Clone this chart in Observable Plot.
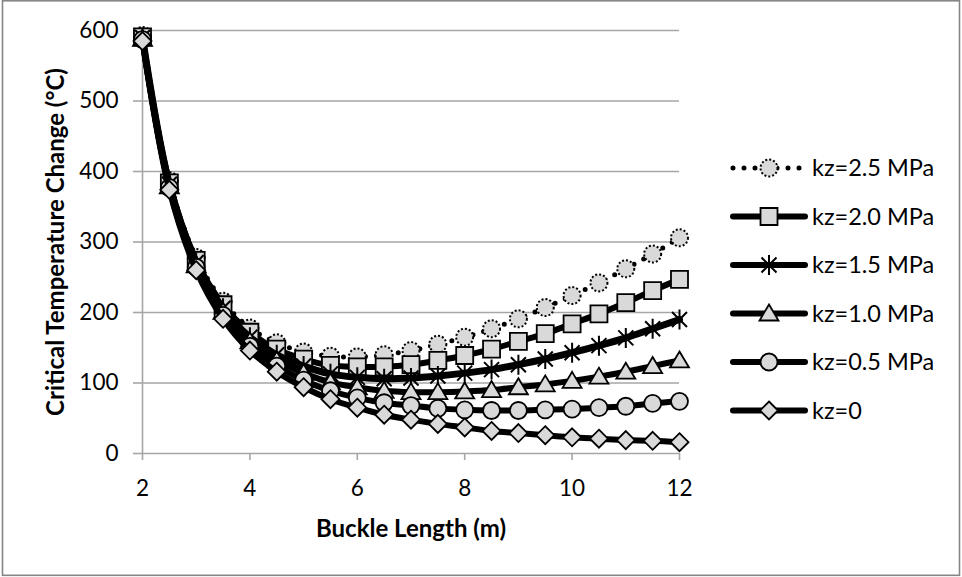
<!DOCTYPE html>
<html>
<head>
<meta charset="utf-8">
<script src="https://cdn.jsdelivr.net/npm/d3@7"></script>
<script src="https://cdn.jsdelivr.net/npm/@observablehq/plot@0.6"></script>
<style>
  html, body { margin: 0; padding: 0; background: white; }
  #wrap { position: relative; width: 962px; height: 577px; }
  #wrap svg { position: absolute; left: 0; top: 0; }
</style>
</head>
<body>
<div id="wrap"></div>
<script>
// ---- Data ----
const lengths = [2, 2.5, 3, 3.5, 4, 4.5, 5, 5.5, 6, 6.5, 7, 7.5, 8, 8.5, 9, 9.5, 10, 10.5, 11, 11.5, 12];
const kz25 = [593, 387, 278, 216, 178, 157, 144, 138, 137, 140, 146, 155, 165, 177, 191, 207, 224, 242, 262, 283, 306];
const kz20 = [591, 384, 274, 211, 172, 148, 134, 125, 123, 123, 126, 132, 139, 148, 159, 170, 184, 198, 214, 231, 247];
const kz15 = [590, 382, 271, 206, 165, 140, 124, 113, 108, 106, 107, 110, 114, 119, 126, 134, 143, 153, 164, 177, 190];
const kz10 = [588, 379, 267, 201, 159, 132, 114, 101, 94, 89, 87, 87, 88, 90, 94, 98, 103, 109, 116, 124, 132];
const kz05 = [587, 377, 264, 196, 152, 124, 104, 89, 79, 72, 68, 64, 62, 61, 61, 62, 63, 65, 67, 71, 74];
const kz00 = [585, 374, 260, 191, 146, 116, 94, 77, 65, 55, 48, 42, 37, 32, 29, 26, 23, 21, 19, 18, 16];
const seriesNames = ["kz=2.5 MPa", "kz=2.0 MPa", "kz=1.5 MPa", "kz=1.0 MPa", "kz=0.5 MPa", "kz=0"];
const seriesValues = [kz25, kz20, kz15, kz10, kz05, kz00];
const xTicks = [2, 4, 6, 8, 10, 12];
const yTicks = [0, 100, 200, 300, 400, 500, 600];
const xTitle = "Buckle Length (m)";
const yTitle = "Critical Temperature Change (°C)";

// ---- Marker symbols (Excel-like) ----
const squareSym = {draw(ctx) { const h = 8.5; ctx.moveTo(-h, -h); ctx.lineTo(h, -h); ctx.lineTo(h, h); ctx.lineTo(-h, h); ctx.closePath(); }};
const diamondSym = {draw(ctx) { const h = 9; ctx.moveTo(0, -h); ctx.lineTo(h, 0); ctx.lineTo(0, h); ctx.lineTo(-h, 0); ctx.closePath(); }};
const triangleSym = {draw(ctx) { ctx.moveTo(0, -9); ctx.lineTo(9.5, 7); ctx.lineTo(-9.5, 7); ctx.closePath(); }};
const circleSym = {draw(ctx) { const r = 8.5; ctx.moveTo(r, 0); ctx.arc(0, 0, r, 0, 2 * Math.PI); ctx.closePath(); }};
const starSym = {draw(ctx) { const a = 7.5; ctx.moveTo(-a, -a); ctx.lineTo(a, a); ctx.moveTo(a, -a); ctx.lineTo(-a, a); ctx.moveTo(0, -10); ctx.lineTo(0, 10); }};

const styles = {
  "kz=2.5 MPa": {lineWidth: 5, lineDash: "0 11", symbol: circleSym, fill: "#d9d9d9", markStroke: "black", markWidth: 2, markDash: "2 2"},
  "kz=2.0 MPa": {lineWidth: 6, lineDash: null, symbol: squareSym, fill: "#d9d9d9", markStroke: "black", markWidth: 1.8, markDash: null},
  "kz=1.5 MPa": {lineWidth: 7, lineDash: null, symbol: starSym, fill: "none", markStroke: "black", markWidth: 2, markDash: null},
  "kz=1.0 MPa": {lineWidth: 6, lineDash: null, symbol: triangleSym, fill: "#d9d9d9", markStroke: "black", markWidth: 1.8, markDash: null},
  "kz=0.5 MPa": {lineWidth: 6, lineDash: null, symbol: circleSym, fill: "#d9d9d9", markStroke: "black", markWidth: 1.8, markDash: null},
  "kz=0": {lineWidth: 6, lineDash: null, symbol: diamondSym, fill: "#d9d9d9", markStroke: "black", markWidth: 1.8, markDash: null}
};

const table = [];
seriesNames.forEach((name, i) => {
  lengths.forEach((L, j) => table.push({series: name, length: L, value: seriesValues[i][j]}));
});

const gray = "#a6a6a6";
const font = "Lato, 'Open Sans', sans-serif";
const seriesMarks = seriesNames.flatMap(name => {
  const s = styles[name];
  const rows = table.filter(d => d.series === name);
  return [
    Plot.line(rows, {x: "length", y: "value", stroke: "black", strokeWidth: s.lineWidth,
      strokeDasharray: s.lineDash ?? undefined, strokeLinecap: "round", strokeLinejoin: "round", curve: "catmull-rom"}),
    Plot.dot(rows, {x: "length", y: "value", symbol: () => s.symbol, r: 8.5, fill: s.fill,
      stroke: s.markStroke, strokeWidth: s.markWidth, strokeDasharray: s.markDash ?? undefined})
  ];
});

const chart = Plot.plot({
  width: 962,
  height: 577,
  marginLeft: 142,
  marginRight: 283,
  marginTop: 30,
  marginBottom: 124,
  style: {fontFamily: font, background: "transparent", overflow: "visible"},
  x: {domain: [2, 12]},
  y: {domain: [0, 600]},
  symbol: {type: "identity"},
  marks: [
    Plot.gridY(yTicks.filter(d => d > 0), {stroke: gray, strokeOpacity: 1, strokeWidth: 1.6}),
    Plot.ruleX([2], {stroke: gray, strokeWidth: 1.6}),
    Plot.ruleY([0], {stroke: gray, strokeWidth: 1.6}),
    Plot.axisY(yTicks, {tickSize: 9, tickPadding: 15, fontSize: 22.5, stroke: gray, strokeWidth: 1.6, fill: "black", label: null}),
    Plot.axisX(xTicks, {tickSize: 7, tickPadding: 20, fontSize: 22.5, stroke: gray, strokeWidth: 1.6, fill: "black", label: null}),
    ...seriesMarks,
    Plot.text([yTitle], {frameAnchor: "left", dx: -86, rotate: -90, textAnchor: "middle", lineAnchor: "middle", fontWeight: "bold", fontSize: 24, fill: "black"}),
    Plot.text([xTitle], {frameAnchor: "bottom", dy: 76, textAnchor: "middle", lineAnchor: "middle", fontWeight: "bold", fontSize: 24, fill: "black"})
  ]
});

const wrap = document.getElementById("wrap");
wrap.appendChild(chart);

// ---- Legend and outer border (overlay) ----
const ov = d3.select(wrap).append("svg").attr("width", 962).attr("height", 577)
  .style("pointer-events", "none").style("font-family", font);
ov.append("rect").attr("x", 2.5).attr("y", 0.8).attr("width", 957).attr("height", 574.5)
  .attr("fill", "none").attr("stroke", "#868686").attr("stroke-width", 1.6);

const legX0 = 733, legX1 = 805, legY0 = 168, legStep = 48.5;
seriesNames.forEach((name, i) => {
  const s = styles[name];
  const y = legY0 + i * legStep;
  const g = ov.append("g");
  g.append("line").attr("x1", legX0).attr("x2", legX1).attr("y1", y).attr("y2", y)
    .attr("stroke", "black").attr("stroke-width", s.lineWidth === 5 ? 5 : 6)
    .attr("stroke-linecap", "round")
    .attr("stroke-dasharray", s.lineDash);
  g.append("path").attr("transform", `translate(${(legX0 + legX1) / 2},${y})`)
    .attr("d", d3.symbol().type(s.symbol)())
    .attr("fill", s.fill).attr("stroke", s.markStroke).attr("stroke-width", s.markWidth)
    .attr("stroke-dasharray", s.markDash);
  g.append("text").attr("x", 812).attr("y", y).attr("dy", "0.35em")
    .attr("font-size", 23.5).attr("fill", "black").text(name);
});
</script>
</body>
</html>
